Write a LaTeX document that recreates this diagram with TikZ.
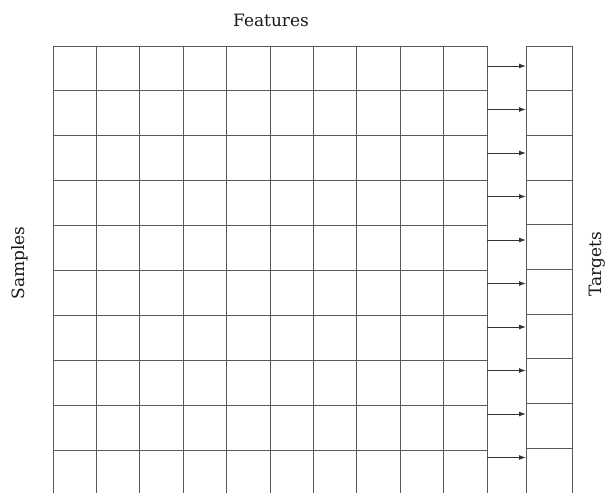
\documentclass[tikz,border=0pt]{standalone}
\usepackage{fontspec}
\setmainfont{DejaVu Serif}
\usetikzlibrary{arrows.meta}
\begin{document}
\begin{tikzpicture}[x=1pt,y=-1pt,
  gridline/.style={draw=black!65,line width=0.9pt},
  feed/.style={draw=black!80,line width=1pt,-{Latex[length=7pt,width=5pt]}},
  lbl/.style={font=\fontsize{17}{20}\selectfont,inner sep=0pt,text=black!90}]
\useasboundingbox (0,0) rectangle (606,493);
\foreach \i in {0,...,10} \draw[gridline] ({53+\i*43.4},46) -- ({53+\i*43.4},493);
\foreach \j in {0,...,9} \draw[gridline] (53,{46+\j*44.9}) -- (487,{46+\j*44.9});
\draw[gridline] (526,493) -- (526,46) -- (572,46) -- (572,493);
\foreach \j in {1,...,9} \draw[gridline] (526,{46+\j*44.7}) -- (572,{46+\j*44.7});
\foreach \k in {0,...,9} {
  \coordinate (s\k) at (487,{66+\k*43.5});
  \coordinate (t\k) at (526,{66+\k*43.5});
  \draw[feed] (s\k) -- (t\k);
}
\node[lbl] (features) at (271,20) {Features};
\node[lbl,rotate=90] (samples) at (20,263) {Samples};
\node[lbl,rotate=90] (targets) at (597,264) {Targets};
\end{tikzpicture}
\end{document}
